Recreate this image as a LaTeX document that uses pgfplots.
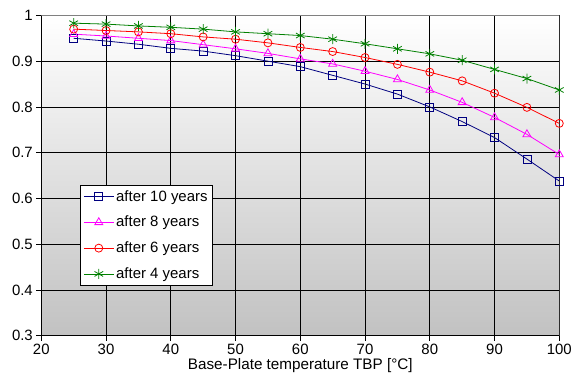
\documentclass[border=0pt]{standalone}
\usepackage{pgfplots}
\pgfplotsset{compat=1.18}
\usepackage{fontspec}
\setmainfont{Liberation Sans}
\definecolor{cblue}{RGB}{0,0,128}
\definecolor{cmag}{RGB}{255,0,255}
\definecolor{cred}{RGB}{255,0,0}
\definecolor{cgreen}{RGB}{0,128,0}
\begin{document}
\begin{tikzpicture}
\path[use as bounding box] (0,0) rectangle (584bp,390bp);
\begin{axis}[
  at={(41.3bp,54.3bp)}, anchor=south west,
  scale only axis, width=518bp, height=320.3bp,
  xmin=20, xmax=100, ymin=0.3, ymax=1,
  xtick={20,30,...,100}, ytick={0.3,0.4,...,1.0},
  /pgf/number format/assume math mode=true,
  /pgf/number format/fixed,
  axis lines*=left,
  axis line style={black, line width=0.8pt, -},
  tick style={black, line width=0.8pt},
  tick align=outside, major tick length=5bp,
  grid=major, major grid style={black, line width=0.8pt},
  axis background/.style={top color=white, bottom color=black!24},
  tick label style={font=\fontsize{15}{17}\selectfont},
  xlabel={Base-Plate temperature TBP [°C]},
  xlabel style={font=\fontsize{15.3}{17}\selectfont, yshift=3bp},
  legend style={at={(0.0747,0.4705)}, anchor=north west, draw=black, line width=0.8pt, fill=white,
    font=\fontsize{15}{17}\selectfont, row sep=9.5bp, inner sep=3bp},
  legend cell align=left,
  legend image code/.code={\draw[mark repeat=2,mark phase=2] plot coordinates {(0bp,0bp) (15bp,0bp) (30bp,0bp)};},
  every axis plot/.append style={line width=0.8pt, mark size=4bp, mark options={solid, line width=0.8pt}},
]
\addplot[cblue, mark=square] coordinates {
(25,0.950) (30,0.944) (35,0.937) (40,0.928) (45,0.922) (50,0.912) (55,0.900) (60,0.888)
(65,0.869) (70,0.850) (75,0.828) (80,0.800) (85,0.768) (90,0.733) (95,0.686) (100,0.638)};
\addlegendentry{after 10 years}
\addplot[cmag, mark=triangle, mark size=4.6bp] coordinates {
(25,0.959) (30,0.955) (35,0.950) (40,0.945) (45,0.936) (50,0.927) (55,0.917) (60,0.905)
(65,0.894) (70,0.878) (75,0.860) (80,0.837) (85,0.810) (90,0.777) (95,0.740) (100,0.696)};
\addlegendentry{after 8 years}
\addplot[cred, mark=o] coordinates {
(25,0.970) (30,0.967) (35,0.964) (40,0.960) (45,0.953) (50,0.948) (55,0.940) (60,0.930)
(65,0.921) (70,0.908) (75,0.893) (80,0.876) (85,0.857) (90,0.830) (95,0.799) (100,0.764)};
\addlegendentry{after 6 years}
\addplot[cgreen, mark=asterisk, mark size=5bp] coordinates {
(25,0.983) (30,0.981) (35,0.977) (40,0.974) (45,0.970) (50,0.964) (55,0.960) (60,0.956)
(65,0.948) (70,0.938) (75,0.927) (80,0.916) (85,0.902) (90,0.882) (95,0.862) (100,0.837)};
\addlegendentry{after 4 years}
\draw[black!50, line width=1.5pt] (rel axis cs:0,1) -- (rel axis cs:1,1) -- (rel axis cs:1,0);
\end{axis}
\end{tikzpicture}
\end{document}
